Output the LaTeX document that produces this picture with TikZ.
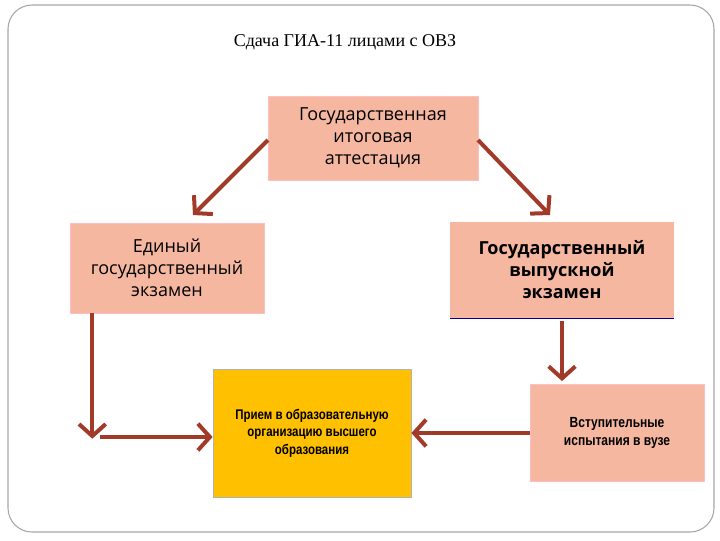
\documentclass[tikz,border=0pt]{standalone}
\usepackage{fontspec}
\setmainfont{Liberation Serif}
\newfontfamily\osans{Open Sans}
\newfontfamily\narrow{Liberation Sans}[FakeStretch=0.82]
\usetikzlibrary{arrows.meta}
\begin{document}
\begin{tikzpicture}[x=0.75pt,y=-0.75pt,
 box/.style={draw=red!25!white,fill=salmon,line width=0.6pt,align=center,inner sep=0pt},
 arr/.style={draw=arrowc,line width=3pt,-{Straight Barb[length=9pt,width=20pt,line width=3pt]}}]
\definecolor{salmon}{HTML}{F5B7A0}
\definecolor{arrowc}{HTML}{A23A2A}
\definecolor{gold}{HTML}{FFC000}
\useasboundingbox (0,0) rectangle (720,540);
\draw[gray!70,line width=0.8pt,rounded corners=18pt] (8,5) rectangle (714,532);
\node[font=\fontsize{13.5}{16}\selectfont] (t) at (345,42) {Сдача ГИА-11 лицами с ОВЗ};
\node[box,minimum width=210*0.75pt,minimum height=84*0.75pt,font=\osans\fontsize{13.5}{16.5}\selectfont] (a) at (373,138) {Государственная\\итоговая\\аттестация};
\node[box,minimum width=194*0.75pt,minimum height=90*0.75pt,font=\osans\fontsize{13.5}{16.5}\selectfont] (b) at (167,268) {Единый\\государственный\\экзамен};
\node[box,draw=none,minimum width=224*0.75pt,minimum height=96*0.75pt,font=\osans\bfseries\fontsize{13.5}{16.5}\selectfont] (c) at (562,270) {Государственный\\выпускной\\экзамен};
\draw[blue!60!black,line width=0.8pt] (c.south west) -- (c.south east);
\node[box,draw=gray!60,fill=gold,minimum width=198*0.75pt,minimum height=128*0.75pt,font=\narrow\bfseries\fontsize{10.5}{13}\selectfont] (d) at (312,433) {Прием в образовательную\\организацию высшего\\образования};
\node[box,minimum width=174*0.75pt,minimum height=97*0.75pt,font=\narrow\bfseries\fontsize{11}{14}\selectfont] (e) at (617,433) {Вступительные\\испытания в вузе};
\coordinate (a1) at (268,140); \coordinate (a2) at (478,140);
\draw[arr] (a1) -- (193,215);
\draw[arr] (a2) -- (550,215);
\draw[arr] ([yshift=-2pt]c.south) -- ++(0,-45pt);
\draw[arr] ([xshift=-56pt]b.south) -- ++(0,-94pt);
\coordinate (h) at (100,437);
\draw[arr] (h) -- (d.west |- h);
\draw[arr] (e.west) -- (d.east);
\end{tikzpicture}
\end{document}
